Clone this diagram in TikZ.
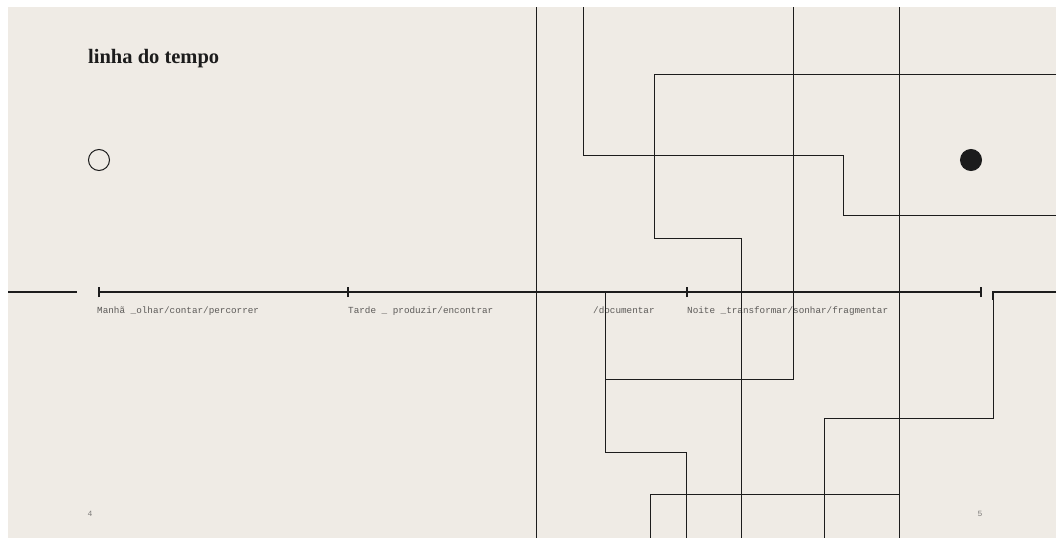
\documentclass[tikz,border=0pt]{standalone}
\usepackage{fontspec}
\setmainfont{Liberation Serif}
\setmonofont{Liberation Mono}
\usetikzlibrary{positioning}

\definecolor{paper}{HTML}{EFEBE5}
\definecolor{ink}{HTML}{1C1C1C}
\definecolor{soft}{HTML}{5C5A58}

\begin{document}
\begin{tikzpicture}[
  x=1pt, y=-1pt,
  wire/.style={draw=ink, line width=1pt},
  axis/.style={draw=ink, line width=1.4pt},
  tickmark/.style={draw=ink, line width=1.6pt},
  heading/.style={font=\fontsize{20.5}{24}\selectfont\bfseries, text=ink,
                  anchor=base west, inner sep=0pt},
  stage/.style={font=\fontsize{9.3}{11}\selectfont\ttfamily, text=soft,
                anchor=base west, inner sep=0pt},
  folio/.style={font=\fontsize{8}{9}\selectfont\ttfamily, text=soft!80,
                anchor=base, inner sep=0pt},
  dot/.style={circle, draw=ink, line width=1pt, minimum size=21pt, inner sep=0pt}]

  \useasboundingbox (0,0) rectangle (1058,538);
  \fill[paper] (8,7) rectangle (1056,538);

  % title and the two markers
  \node[heading] (title) at (88,63) {linha do tempo};
  \node[dot] (start) at (99,160) {};
  \node[dot, fill=ink] (end) at (971,160) {};

  % time axis
  \coordinate (t1) at (99,292);
  \coordinate (t2) at (348,292);
  \coordinate (t3) at (687,292);
  \coordinate (t4) at (981,292);
  \draw[axis] (8,292) -- (77,292);
  \draw[axis] (t1) -- (t4);
  \foreach \t in {t1,t2,t3,t4}
    \draw[tickmark] ([yshift=-5pt]\t) -- ([yshift=5pt]\t);

  \node[stage] (morning) at (97,313) {Manhã \_olhar/contar/percorrer};
  \node[stage] (afternoon) at (348,313) {Tarde \_ produzir/encontrar};
  \node[stage] (document) at (593,313) {/documentar};
  \node[stage] (night) at (687,313) {Noite \_transformar/sonhar/fragmentar};

  % crossing lines
  \draw[wire] (536,7) -- (536,538);
  \draw[wire] (583,7) |- (843,155) |- (1056,215);
  \draw[wire] (1056,74) -| (654,238) -| (741,538);
  \draw[wire] (793,7) |- (605,379);
  \draw[wire] (605,292) |- (686,452) -- (686,538);
  \draw[wire] (899,7) -- (899,538);
  \draw[wire] (650,538) |- (899,494);
  \draw[axis] (1056,292) -| (993,300);
  \draw[wire] (993,292) |- (824,418) -- (824,538);

  % page numbers
  \node[folio] (left page) at (90,516) {4};
  \node[folio] (right page) at (980,516) {5};
\end{tikzpicture}
\end{document}
